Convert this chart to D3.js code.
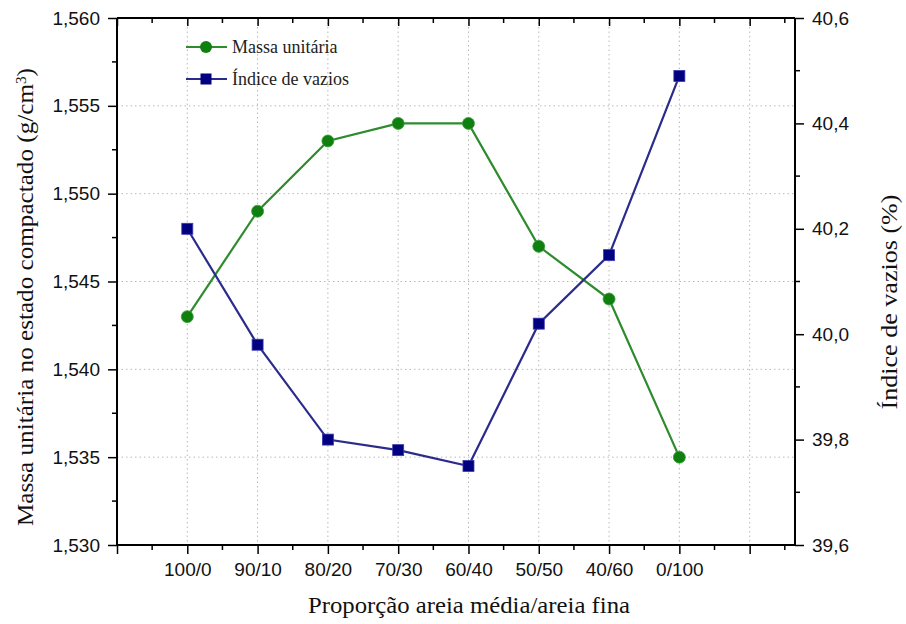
<!DOCTYPE html>
<html>
<head>
<meta charset="utf-8">
<script src="https://cdn.jsdelivr.net/npm/d3@7"></script>
<style>
  html, body { margin: 0; padding: 0; background: #fff; }
  svg { display: block; }
</style>
</head>
<body>
<svg id="chart" width="906" height="624"></svg>
<script>
// Sand blend proportions (medium sand / fine sand)
const categories = ["100/0", "90/10", "80/20", "70/30", "60/40", "50/50", "40/60", "0/100"];
// Unit mass in the compacted state (g/cm³)
const massaUnitaria = [1.543, 1.549, 1.553, 1.554, 1.554, 1.547, 1.544, 1.535];
// Void ratio (%)
const indiceVazios = [40.20, 39.98, 39.80, 39.78, 39.75, 40.02, 40.15, 40.49];
const leftTicks = [1.530, 1.535, 1.540, 1.545, 1.550, 1.555, 1.560];
const rightTicks = [39.6, 39.8, 40.0, 40.2, 40.4, 40.6];

const svg = d3.select("#chart");
const L = 117, R = 795, T = 18, B = 545;

const fmtComma = (d, n) => d.toFixed(n).replace(".", ",");

// x: category positions 1..8 on a linear axis running 0..9.65
const x = d3.scaleLinear().domain([0, 9.645]).range([L, R]);
const yL = d3.scaleLinear().domain([1.530, 1.560]).range([B, T]);
const yR = d3.scaleLinear().domain([39.6, 40.6]).range([B, T]);

const gridColor = "#b8b8b8";
const grid = svg.append("g");
// vertical grid at major x ticks
d3.range(1, 10).forEach(i => {
  grid.append("line")
    .attr("x1", x(i)).attr("x2", x(i)).attr("y1", T).attr("y2", B)
    .attr("stroke", gridColor).attr("stroke-width", 1).attr("stroke-dasharray", "1.5,3");
});
// horizontal grid at inner left ticks
leftTicks.slice(1, -1).forEach(v => {
  grid.append("line")
    .attr("x1", L).attr("x2", R).attr("y1", yL(v)).attr("y2", yL(v))
    .attr("stroke", gridColor).attr("stroke-width", 1).attr("stroke-dasharray", "1.5,3");
});

const tickFont = "'Liberation Sans', Arial, sans-serif";
const serif = "'Liberation Serif', 'Times New Roman', serif";
const tickSize = 19;

// Left axis
const leftAxis = d3.axisLeft(yL).tickValues(leftTicks).tickSize(9).tickPadding(8)
  .tickFormat(d => fmtComma(d, 3));
const gL = svg.append("g").attr("transform", `translate(${L},0)`).call(leftAxis);
gL.append("g").selectAll("line").data(d3.range(1.5325, 1.560, 0.005)).join("line")
  .attr("x1", 0).attr("x2", -5).attr("y1", d => yL(d)).attr("y2", d => yL(d))
  .attr("stroke", "#000").attr("stroke-width", 1.5);

// Right axis
const rightAxis = d3.axisRight(yR).tickValues(rightTicks).tickSize(9).tickPadding(8)
  .tickFormat(d => fmtComma(d, 1));
const gR = svg.append("g").attr("transform", `translate(${R},0)`).call(rightAxis);
gR.append("g").selectAll("line").data([39.7, 39.9, 40.1, 40.3, 40.5]).join("line")
  .attr("x1", 0).attr("x2", 5).attr("y1", d => yR(d)).attr("y2", d => yR(d))
  .attr("stroke", "#000").attr("stroke-width", 1.5);

// Bottom axis
const bottomAxis = d3.axisBottom(x).tickValues(d3.range(0, 10)).tickSize(9).tickPadding(9)
  .tickFormat(d => (d >= 1 && d <= categories.length) ? categories[d - 1] : "");
const gB = svg.append("g").attr("transform", `translate(0,${B})`).call(bottomAxis);
gB.append("g").selectAll("line").data(d3.range(0.5, 9.6, 1)).join("line")
  .attr("x1", d => x(d)).attr("x2", d => x(d)).attr("y1", 0).attr("y2", 5)
  .attr("stroke", "#000").attr("stroke-width", 1.5);

// Top axis (ticks inward)
const topAxis = d3.axisTop(x).tickValues(d3.range(0, 10)).tickSize(-8).tickFormat("");
const gT = svg.append("g").attr("transform", `translate(0,${T})`).call(topAxis);
gT.append("g").selectAll("line").data(d3.range(0.5, 9.6, 1)).join("line")
  .attr("x1", d => x(d)).attr("x2", d => x(d)).attr("y1", 0).attr("y2", 5)
  .attr("stroke", "#000").attr("stroke-width", 1.5);

[gL, gR, gB, gT].forEach(g => {
  g.selectAll(".domain").attr("stroke", "#000").attr("stroke-width", 2);
  g.selectAll(".tick line").attr("stroke", "#000").attr("stroke-width", 1.5);
  g.selectAll("text").attr("font-family", tickFont).attr("font-size", tickSize).attr("fill", "#111");
});
gB.selectAll(".domain").attr("d", `M${L},0H${R}`);
gT.selectAll(".domain").attr("d", `M${L},0H${R}`);
gL.selectAll(".domain").attr("d", `M0,${B}V${T}`);
gR.selectAll(".domain").attr("d", `M0,${B}V${T}`);

// Axis titles
svg.append("text")
  .attr("transform", `translate(33,297) rotate(-90)`)
  .attr("text-anchor", "middle").attr("font-family", serif).attr("font-size", 23).attr("fill", "#111")
  .attr("textLength", 458).attr("lengthAdjust", "spacingAndGlyphs")
  .html("Massa unitária no estado compactado (g/cm<tspan baseline-shift='super' font-size='14'>3</tspan>)");
svg.append("text")
  .attr("transform", `translate(897,302) rotate(-90)`)
  .attr("text-anchor", "middle").attr("font-family", serif).attr("font-size", 23).attr("fill", "#111")
  .attr("textLength", 215).attr("lengthAdjust", "spacingAndGlyphs")
  .text("Índice de vazios (%)");
svg.append("text")
  .attr("x", 469).attr("y", 613)
  .attr("text-anchor", "middle").attr("font-family", serif).attr("font-size", 23).attr("fill", "#111")
  .attr("textLength", 322).attr("lengthAdjust", "spacingAndGlyphs")
  .text("Proporção areia média/areia fina");

const greenLine = "#2e8b2e", greenMark = "#0f7f0f";
const blueLine = "#2b2b8c", blueMark = "#000080";

// Unit mass series
svg.append("path")
  .datum(massaUnitaria)
  .attr("fill", "none").attr("stroke", greenLine).attr("stroke-width", 2.2)
  .attr("d", d3.line().x((d, i) => x(i + 1)).y(d => yL(d)));
svg.append("g").selectAll("circle").data(massaUnitaria).join("circle")
  .attr("cx", (d, i) => x(i + 1)).attr("cy", d => yL(d)).attr("r", 6)
  .attr("fill", greenMark).attr("stroke", "#3aa03a").attr("stroke-width", 0.8);

// Void ratio series
svg.append("path")
  .datum(indiceVazios)
  .attr("fill", "none").attr("stroke", blueLine).attr("stroke-width", 2.2)
  .attr("d", d3.line().x((d, i) => x(i + 1)).y(d => yR(d)));
svg.append("g").selectAll("rect").data(indiceVazios).join("rect")
  .attr("x", (d, i) => x(i + 1) - 5.5).attr("y", d => yR(d) - 5.5)
  .attr("width", 11).attr("height", 11)
  .attr("fill", blueMark).attr("stroke", "#3a3ab0").attr("stroke-width", 0.8);

// Legend
const leg = svg.append("g").attr("transform", "translate(186,47)");
leg.append("line").attr("x1", 0).attr("x2", 41).attr("y1", 0).attr("y2", 0)
  .attr("stroke", greenLine).attr("stroke-width", 2.2);
leg.append("circle").attr("cx", 20).attr("cy", 0).attr("r", 6).attr("fill", greenMark);
leg.append("text").attr("x", 46).attr("y", 6).attr("font-family", serif).attr("font-size", 18)
  .attr("fill", "#222").text("Massa unitária");
leg.append("line").attr("x1", 0).attr("x2", 41).attr("y1", 32).attr("y2", 32)
  .attr("stroke", blueLine).attr("stroke-width", 2.2);
leg.append("rect").attr("x", 14.5).attr("y", 26.5).attr("width", 11).attr("height", 11).attr("fill", blueMark);
leg.append("text").attr("x", 46).attr("y", 38).attr("font-family", serif).attr("font-size", 18)
  .attr("fill", "#222").text("Índice de vazios");
</script>
</body>
</html>
